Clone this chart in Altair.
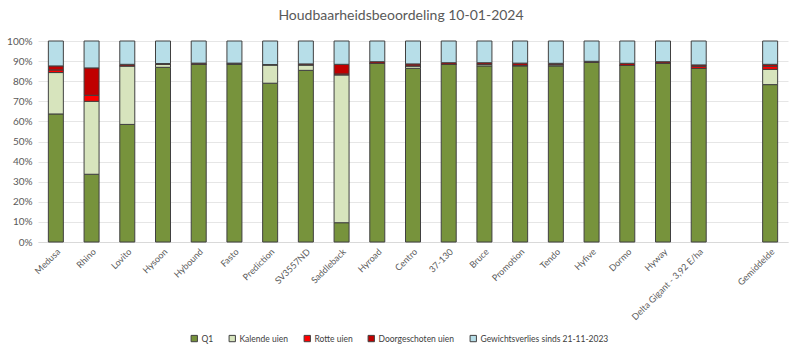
import altair as alt
import pandas as pd

rassen = ["Medusa", "Rhino", "Lovito", "Hysoon", "Hybound", "Fasto", "Prediction",
          "SV3557ND", "Saddleback", "Hyroad", "Centro", "37-130", "Bruce", "Promotion",
          "Tendo", "Hyfive", "Dormo", "Hyway", "Delta Gigant - 3,92 E/ha", "Gemiddelde"]
q1 = [63.7, 33.7, 58.5, 86.9, 88.4, 88.6, 79.0, 85.4, 9.6, 88.9, 86.4, 88.4, 87.6, 87.6,
      87.6, 89.4, 87.9, 89.0, 86.4, 78.3]
kalende = [20.6, 36.3, 29.1, 1.5, 0.0, 0.0, 9.1, 2.7, 73.5, 0.0, 1.2, 0.0, 0.8, 0.3,
           0.6, 0.0, 0.0, 0.0, 0.0, 7.6]
rotte = [1.3, 3.0, 0.0, 0.0, 0.0, 0.0, 0.0, 0.0, 0.5, 0.0, 0.0, 0.0, 0.0, 0.0,
         0.0, 0.0, 0.0, 0.0, 1.0, 1.5]
doorgeschoten = [2.0, 13.6, 0.8, 0.4, 0.6, 0.4, 0.2, 0.5, 4.8, 0.8, 1.0, 0.8, 0.8, 1.1,
                 0.7, 0.5, 1.0, 0.7, 0.7, 1.0]
gewicht = [12.4, 13.4, 11.6, 11.2, 11.0, 11.0, 11.7, 11.4, 11.6, 10.3, 11.4, 10.8, 10.8, 11.0,
           11.1, 10.1, 11.1, 10.3, 11.9, 11.6]

series = ["Q1", "Kalende uien", "Rotte uien", "Doorgeschoten uien",
          "Gewichtsverlies sinds 21-11-2023"]
kleuren = ["#77933C", "#D7E4BD", "#FF0000", "#C00000", "#B7DEE8"]

rows = []
for i, r in enumerate(rassen):
    for j, vals in enumerate([q1, kalende, rotte, doorgeschoten, gewicht]):
        rows.append({"ras": r, "reeks": series[j], "volgorde": j, "waarde": vals[i] / 100.0})
df = pd.DataFrame(rows)

x_domain = rassen[:-1] + [" "] + [rassen[-1]]
FONT = "Lato"

chart = alt.Chart(df).mark_bar(stroke="#404040", strokeWidth=1, size=15).encode(
    x=alt.X("ras:N", scale=alt.Scale(domain=x_domain, paddingInner=0.0, paddingOuter=0.0),
            axis=alt.Axis(title=None, labelAngle=-45, labelFontSize=9, labelColor="#595959",
                          ticks=False, domainColor="#D9D9D9", labelPadding=5, labelFont=FONT)),
    y=alt.Y("waarde:Q", stack=True, scale=alt.Scale(domain=[0, 1], nice=False),
            axis=alt.Axis(title=None, format=".0%", values=[i / 10 for i in range(11)],
                          labelFontSize=10, labelColor="#595959", domain=False, ticks=False,
                          gridColor="#E6E6E6", labelPadding=6, labelFont=FONT)),
    color=alt.Color("reeks:N", scale=alt.Scale(domain=series, range=kleuren),
                    legend=alt.Legend(title=None, orient="none", direction="horizontal",
                                      legendX=152, legendY=293, symbolType="square",
                                      symbolSize=40, symbolStrokeColor="#404040",
                                      symbolStrokeWidth=1, labelFontSize=8.5,
                                      labelColor="#404040", columnPadding=13,
                                      labelOffset=3, labelFont=FONT, columns=5)),
    order=alt.Order("volgorde:Q"),
).properties(
    width=750, height=201,
    title=alt.TitleParams("Houdbaarheidsbeoordeling 10-01-2024", fontSize=14,
                          fontWeight="normal", color="#595959", font=FONT,
                          anchor="middle", dx=-12, offset=13),
    autosize=alt.AutoSizeParams(type="none"),
    padding={"left": 38, "top": 41, "right": 12, "bottom": 114},
).configure_view(stroke=None)

chart.save("out.html", embed_options={"renderer": "svg", "actions": False})
